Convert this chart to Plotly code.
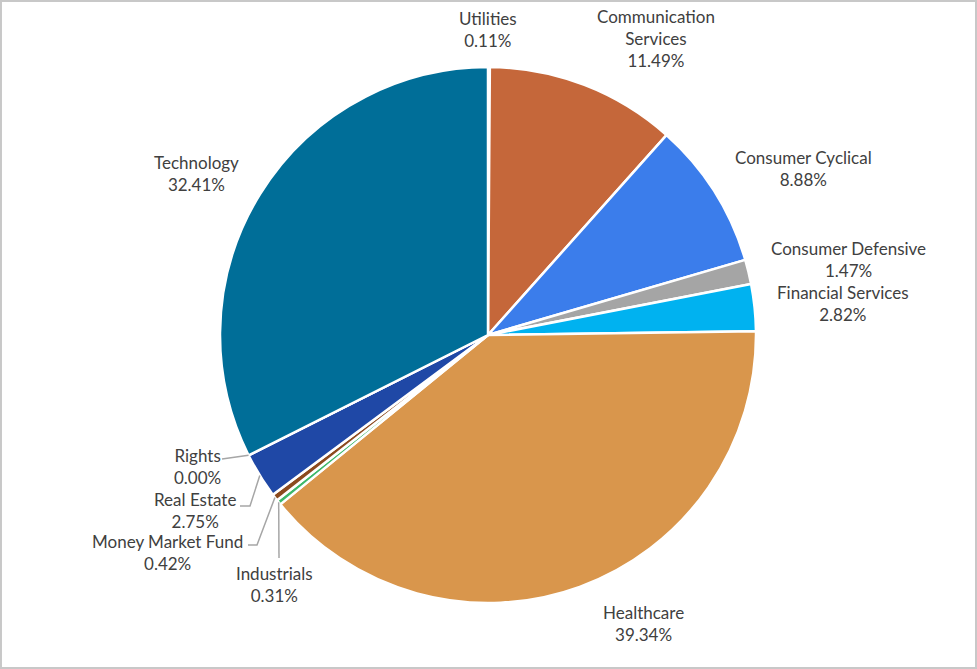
import math
import plotly.graph_objects as go

# ---- data ----
sectors = ["Utilities", "Communication Services", "Consumer Cyclical", "Consumer Defensive",
           "Financial Services", "Healthcare", "Industrials", "Money Market Fund",
           "Real Estate", "Rights", "Technology"]
weights = [0.11, 11.49, 8.88, 1.47, 2.82, 39.34, 0.31, 0.42, 2.75, 0.00, 32.41]

# ---- style ----
colors = ["#4472C4", "#C5673A", "#3B7DEB", "#A5A5A5", "#00B2F0", "#D9964C",
          "#3DB86A", "#8B4A1E", "#1F48A6", "#2B5FAF", "#006E98"]
label_text = {
    "Communication Services": "Communication<br>Services",
}
# label block centres in pixels (layout only)
label_pos = {
    "Utilities": (488, 29), "Communication Services": (656, 39), "Consumer Cyclical": (803, 168),
    "Consumer Defensive": (848, 259), "Financial Services": (843, 303), "Healthcare": (643, 623),
    "Industrials": (274, 584), "Money Market Fund": (167, 552), "Real Estate": (195, 511),
    "Rights": (197, 466), "Technology": (196, 174),
}
# leader-line start points near the labels (layout only)
leader_start = {
    "Rights": [(222, 459)],
    "Real Estate": [(240, 506), (250, 506)],
    "Money Market Fund": [(248, 545), (257, 545)],
    "Industrials": [(279, 558)],
}

W, H = 977, 669
CX, CY, R = 488, 335, 268
FONT = "Lato"
TXT = "#404040"


def px(x):
    return x / W


def py(y):
    return 1 - y / H


fig = go.Figure(go.Pie(
    labels=sectors, values=weights, sort=False, direction="clockwise", rotation=0,
    marker=dict(colors=colors, line=dict(color="white", width=2.5)),
    textinfo="none", hoverinfo="label+percent", showlegend=False,
    domain=dict(x=[px(CX - R), px(CX + R)], y=[py(CY + R), py(CY - R)]),
))

total = sum(weights)
cum = 0.0
for name, v in zip(sectors, weights):
    mid = (cum + v / 2) / total * 2 * math.pi
    cum += v
    lx, ly = label_pos[name]
    fig.add_annotation(
        x=px(lx), y=py(ly), xref="paper", yref="paper", showarrow=False,
        text=f"{label_text.get(name, name)}<br>{v:.2f}%",
        font=dict(family=FONT, size=17, color=TXT), align="center",
        xanchor="center", yanchor="middle",
    )
    if name in leader_start:
        ex = CX + R * math.sin(mid)
        ey = CY - R * math.cos(mid)
        pts = leader_start[name] + [(ex, ey)]
        path = "M " + " L ".join(f"{px(a)},{py(b)}" for a, b in pts)
        fig.add_shape(type="path", path=path, xref="paper", yref="paper",
                      line=dict(color="#A6A6A6", width=1.5))

fig.add_shape(type="rect", xref="paper", yref="paper", x0=0.001, y0=0.0015, x1=0.999, y1=0.9985,
              line=dict(color="#C8C8C8", width=2))

fig.update_layout(
    width=W, height=H, margin=dict(l=0, r=0, t=0, b=0),
    paper_bgcolor="white", plot_bgcolor="white",
    font=dict(family=FONT, size=17, color=TXT),
)

fig.write_html("out.html", config={"displayModeBar": False},
               post_script="document.body.style.margin='0';document.body.style.overflow='hidden';")
